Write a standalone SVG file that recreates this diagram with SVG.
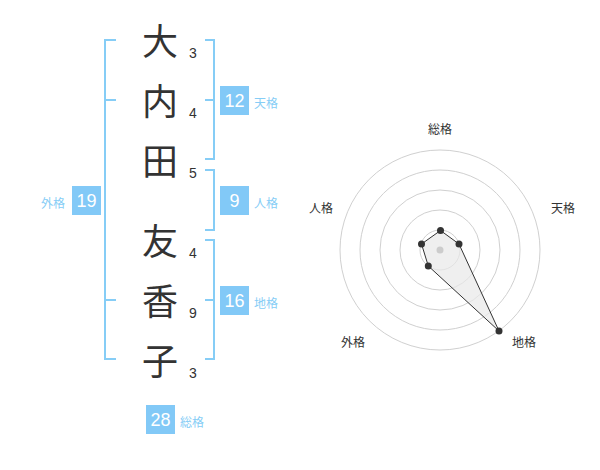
<svg xmlns="http://www.w3.org/2000/svg" width="600" height="470" viewBox="0 0 600 470">
<style>
.k{font-family:"Noto Sans CJK JP","Noto Sans CJK SC",sans-serif;font-size:36px;fill:#333;text-anchor:middle}
.n{font-family:"Liberation Sans",Arial,sans-serif;font-size:14px;fill:#333;text-anchor:middle}
.br{fill:none;stroke:#86cdf6;stroke-width:2}
.bx{fill:#82c9f7}
.bt{font-family:"Liberation Sans",Arial,sans-serif;font-size:18px;fill:#fff;text-anchor:middle}
.lb{font-family:"Noto Sans CJK JP","Noto Sans CJK SC",sans-serif;font-size:12px;fill:#86cdf6}
.rl{font-family:"Noto Sans CJK JP","Noto Sans CJK SC",sans-serif;font-size:12px;fill:#333;text-anchor:middle}
.ring{fill:none;stroke:#d0d0d0;stroke-width:1}
.pt{fill:#333}
</style>
<rect width="600" height="470" fill="#fff"/>
<g id="chars">
<text class="k" x="160" y="55">大</text>
<text class="k" x="160" y="115">内</text>
<text class="k" x="160" y="175">田</text>
<text class="k" x="160" y="255">友</text>
<text class="k" x="160" y="315">香</text>
<text class="k" x="160" y="375">子</text>
</g>
<g id="strokes">
<text class="n" x="193" y="58">3</text>
<text class="n" x="193" y="118">4</text>
<text class="n" x="193" y="178">5</text>
<text class="n" x="193" y="258">4</text>
<text class="n" x="193" y="318">9</text>
<text class="n" x="193" y="378">3</text>
</g>
<g id="connectors">
<path class="br" d="M116,40H105V359H116M105,100H116M105,300H116"/>
<path class="br" d="M205,40H214V159H205M205,100H214"/>
<path class="br" d="M205,170H214V230H205"/>
<path class="br" d="M205,240H214V359H205M205,300H214"/>
</g>
<g id="tenkaku">
<rect class="bx" x="220" y="86" width="29" height="29"/>
<text class="bt" x="234.5" y="107">12</text>
<text class="lb" x="254" y="108">天格</text>
</g>
<g id="jinkaku">
<rect class="bx" x="220" y="186" width="29" height="29"/>
<text class="bt" x="234.5" y="207">9</text>
<text class="lb" x="254" y="208">人格</text>
</g>
<g id="gaikaku">
<rect class="bx" x="72" y="186" width="29" height="29"/>
<text class="bt" x="86.5" y="207">19</text>
<text class="lb" x="41" y="208">外格</text>
</g>
<g id="chikaku">
<rect class="bx" x="220" y="286" width="29" height="29"/>
<text class="bt" x="234.5" y="307">16</text>
<text class="lb" x="254" y="308">地格</text>
</g>
<g id="soukaku">
<rect class="bx" x="146" y="405" width="29" height="29"/>
<text class="bt" x="160.5" y="426">28</text>
<text class="lb" x="180" y="427">総格</text>
</g>
<g id="radar">
<circle class="ring" cx="440" cy="250" r="20"/>
<circle class="ring" cx="440" cy="250" r="40"/>
<circle class="ring" cx="440" cy="250" r="60"/>
<circle class="ring" cx="440" cy="250" r="80"/>
<circle class="ring" cx="440" cy="250" r="100"/>
<polygon points="440.5,230.5 459,244 499,331 428.3,266 421.5,244" fill="#e8e8e8" fill-opacity="0.7" stroke="#333" stroke-width="1"/>
<circle cx="440" cy="250" r="3.5" fill="#ccc"/>
<circle class="pt" cx="440.5" cy="230.5" r="3.5"/>
<circle class="pt" cx="459" cy="244" r="3.5"/>
<circle class="pt" cx="499" cy="331" r="3.5"/>
<circle class="pt" cx="428.3" cy="266" r="3.5"/>
<circle class="pt" cx="421.5" cy="244" r="3.5"/>
<text class="rl" x="440" y="134">総格</text>
<text class="rl" x="563" y="213">天格</text>
<text class="rl" x="321" y="213">人格</text>
<text class="rl" x="353" y="347">外格</text>
<text class="rl" x="524" y="347">地格</text>
</g>
</svg>
